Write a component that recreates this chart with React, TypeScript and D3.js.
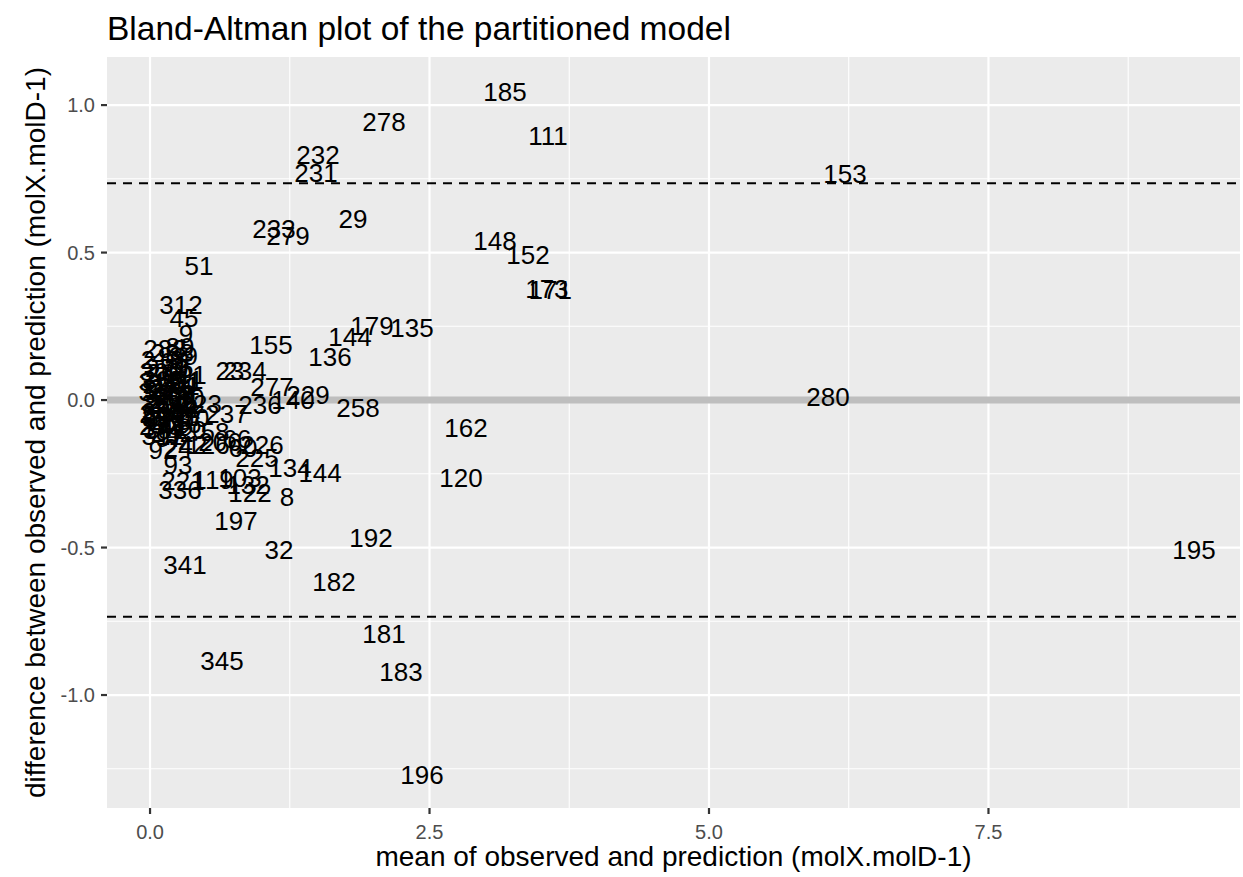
import { useEffect, useRef } from 'react';
import * as d3 from 'd3';

// point labels (row ids), mean of obs & pred, difference obs - pred
const ids = [
  '185', '278', '111', '232', '231', '153', '29', '233', '279', '148',
  '152', '51', '173', '171', '312', '45', '179', '135', '144', '155',
  '9', '136', '23', '234', '277', '229', '140', '236', '258', '280',
  '162', '237', '226', '225', '134', '144', '120', '197', '192', '32',
  '195', '341', '182', '181', '345', '183', '196',
  // dense cluster near zero
  '283', '89', '218', '38', '300', '264', '101', '315', '25', '301',
  '11', '318', '57', '209', '30', '223', '36', '217', '40', '240',
  '50', '261', '70', '253', '74', '41', '20', '58', '311', '97',
  '92', '24', '42', '126', '206', '66', '60', '93', '221', '119',
  '103', '132', '122', '8', '336',
  '288', '39', '270', '35', '305', '81', '214', '313', '266', '3',
  '290', '44', '308', '212', '285', '27', '307', '16', '242', '319',
];
const meanVals = [
  3.175, 2.093, 3.56, 1.503, 1.485, 6.216, 1.816, 1.109, 1.234, 3.086,
  3.381, 0.438, 3.55, 3.58, 0.277, 0.304, 1.986, 2.343, 1.789, 1.082,
  0.322, 1.61, 0.716, 0.85, 1.091, 1.413, 1.279, 0.984, 1.86, 6.064,
  2.826, 0.689, 1.002, 0.957, 1.252, 1.521, 2.782, 0.769, 1.977, 1.154,
  9.338, 0.313, 1.646, 2.093, 0.644, 2.245, 2.433,
  0.134, 0.268, 0.11, 0.224, 0.1, 0.161, 0.313, 0.09, 0.107, 0.25,
  0.358, 0.09, 0.072, 0.215, 0.358, 0.45, 0.05, 0.15, 0.286, 0.1,
  0.063, 0.242, 0.403, 0.095, 0.063, 0.215, 0.376, 0.581, 0.11, 0.179,
  0.116, 0.25, 0.385, 0.519, 0.626, 0.778, 0.832, 0.25, 0.295, 0.564,
  0.805, 0.877, 0.894, 1.225, 0.268,
  0.2, 0.3, 0.15, 0.26, 0.12, 0.33, 0.19, 0.14, 0.22, 0.34,
  0.16, 0.31, 0.12, 0.24, 0.18, 0.36, 0.13, 0.33, 0.2, 0.12,
];
const diffVals = [
  1.044, 0.942, 0.895, 0.831, 0.769, 0.766, 0.614, 0.58, 0.556, 0.539,
  0.492, 0.454, 0.376, 0.373, 0.322, 0.278, 0.251, 0.244, 0.214, 0.186,
  0.224, 0.146, 0.098, 0.098, 0.044, 0.017, 0.0, -0.017, -0.027, 0.01,
  -0.095, -0.047, -0.153, -0.197, -0.231, -0.247, -0.264, -0.41, -0.468, -0.508,
  -0.508, -0.559, -0.617, -0.793, -0.885, -0.922, -1.271,
  0.173, 0.18, 0.136, 0.129, 0.095, 0.092, 0.085, 0.061, 0.054, 0.047,
  0.068, 0.027, 0.02, 0.014, 0.007, -0.014, -0.014, -0.017, -0.024, -0.047,
  -0.054, -0.058, -0.061, -0.088, -0.095, -0.092, -0.102, -0.108, -0.122, -0.129,
  -0.169, -0.163, -0.153, -0.153, -0.142, -0.132, -0.163, -0.22, -0.275, -0.271,
  -0.264, -0.288, -0.315, -0.329, -0.305,
  0.16, 0.15, 0.11, 0.11, 0.07, 0.06, 0.04, 0.03, 0.0, 0.02,
  -0.01, -0.03, -0.04, -0.03, -0.07, -0.05, -0.1, -0.08, -0.11, -0.06,
];

const meanDiff = 0.0;
const limits = [0.735, -0.735];
const xTicks = [0, 2.5, 5, 7.5];
const xMinor = [1.25, 3.75, 6.25, 8.75];
const yTicks = [-1, -0.5, 0, 0.5, 1];
const yMinor = [-1.25, -0.75, -0.25, 0.25, 0.75];

const FONT = '"Liberation Sans", Arial, Helvetica, sans-serif';

export default function App() {
  const svgRef = useRef<SVGSVGElement>(null);

  useEffect(() => {
    if (!svgRef.current) return;
    const svg = d3.select(svgRef.current);
    svg.selectAll('*').remove();

    const W = 1243;
    const H = 877;
    const left = 107;
    const right = 1240;
    const top = 57;
    const bottom = 808;

    const x = d3.scaleLinear().domain([-0.385, 9.75]).range([left, right]);
    const y = d3.scaleLinear().domain([-1.383, 1.163]).range([bottom, top]);

    svg.attr('width', W).attr('height', H).style('font-family', FONT);
    svg.append('rect').attr('width', W).attr('height', H).attr('fill', '#ffffff');

    // panel
    svg
      .append('rect')
      .attr('x', left)
      .attr('y', top)
      .attr('width', right - left)
      .attr('height', bottom - top)
      .attr('fill', '#ebebeb');

    const grid = svg.append('g').attr('stroke', '#ffffff');
    grid
      .selectAll('.xminor')
      .data(xMinor)
      .enter()
      .append('line')
      .attr('x1', (d) => x(d))
      .attr('x2', (d) => x(d))
      .attr('y1', top)
      .attr('y2', bottom)
      .attr('stroke-width', 1.1);
    grid
      .selectAll('.yminor')
      .data(yMinor)
      .enter()
      .append('line')
      .attr('y1', (d) => y(d))
      .attr('y2', (d) => y(d))
      .attr('x1', left)
      .attr('x2', right)
      .attr('stroke-width', 1.1);
    grid
      .selectAll('.xmajor')
      .data(xTicks)
      .enter()
      .append('line')
      .attr('x1', (d) => x(d))
      .attr('x2', (d) => x(d))
      .attr('y1', top)
      .attr('y2', bottom)
      .attr('stroke-width', 2.2);
    grid
      .selectAll('.ymajor')
      .data(yTicks)
      .enter()
      .append('line')
      .attr('y1', (d) => y(d))
      .attr('y2', (d) => y(d))
      .attr('x1', left)
      .attr('x2', right)
      .attr('stroke-width', 2.2);

    // mean difference line
    svg
      .append('line')
      .attr('x1', left)
      .attr('x2', right)
      .attr('y1', y(meanDiff))
      .attr('y2', y(meanDiff))
      .attr('stroke', '#bebebe')
      .attr('stroke-width', 7);

    // limits of agreement
    svg
      .selectAll('.loa')
      .data(limits)
      .enter()
      .append('line')
      .attr('x1', left)
      .attr('x2', right)
      .attr('y1', (d) => y(d))
      .attr('y2', (d) => y(d))
      .attr('stroke', '#000000')
      .attr('stroke-width', 2)
      .attr('stroke-dasharray', '9,7');

    // labels
    const pts = ids.map((id, i) => ({ id, m: meanVals[i], d: diffVals[i] }));
    svg
      .append('g')
      .selectAll('text')
      .data(pts)
      .enter()
      .append('text')
      .attr('x', (d) => x(d.m))
      .attr('y', (d) => y(d.d))
      .attr('dy', '0.35em')
      .attr('text-anchor', 'middle')
      .attr('font-size', 26)
      .attr('fill', '#000000')
      .text((d) => d.id);

    // axes ticks
    const axisCol = '#333333';
    const txtCol = '#4d4d4d';
    const fmt = (t: number) => d3.format('.1f')(t).replace('\u2212', '-');
    const xa = svg.append('g');
    xTicks.forEach((t) => {
      xa.append('line')
        .attr('x1', x(t))
        .attr('x2', x(t))
        .attr('y1', bottom)
        .attr('y2', bottom + 6)
        .attr('stroke', axisCol)
        .attr('stroke-width', 2.2);
      xa.append('text')
        .attr('x', x(t))
        .attr('y', bottom + 31)
        .attr('text-anchor', 'middle')
        .attr('font-size', 20)
        .attr('fill', txtCol)
        .text(fmt(t));
    });
    const ya = svg.append('g');
    yTicks.forEach((t) => {
      ya.append('line')
        .attr('x1', left - 6)
        .attr('x2', left)
        .attr('y1', y(t))
        .attr('y2', y(t))
        .attr('stroke', axisCol)
        .attr('stroke-width', 2.2);
      ya.append('text')
        .attr('x', left - 12)
        .attr('y', y(t))
        .attr('dy', '0.36em')
        .attr('text-anchor', 'end')
        .attr('font-size', 20)
        .attr('fill', txtCol)
        .text(fmt(t));
    });

    // titles
    svg
      .append('text')
      .attr('x', (left + right) / 2)
      .attr('y', 866)
      .attr('text-anchor', 'middle')
      .attr('font-size', 28)
      .attr('fill', '#000000')
      .text('mean of observed and prediction (molX.molD-1)');
    svg
      .append('text')
      .attr('transform', `translate(45,${(top + bottom) / 2}) rotate(-90)`)
      .attr('text-anchor', 'middle')
      .attr('font-size', 28)
      .attr('fill', '#000000')
      .text('difference between observed and prediction (molX.molD-1)');
    svg
      .append('text')
      .attr('x', left)
      .attr('y', 40)
      .attr('font-size', 33.5)
      .attr('fill', '#000000')
      .text('Bland-Altman plot of the partitioned model');
  }, []);

  return (
    <div style={{ position: 'fixed', left: 0, top: 0 }}>
      <svg ref={svgRef} style={{ display: 'block' }} />
    </div>
  );
}
